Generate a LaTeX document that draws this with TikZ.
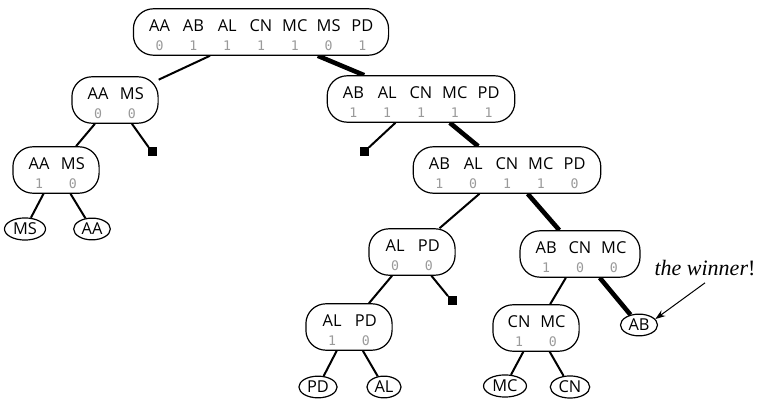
\documentclass[tikz,border=0pt]{standalone}
\usepackage{fontspec}
\usepackage{array}
\setmainfont{Open Sans}
\newfontfamily\digitfont{DejaVu Sans Mono}
\newfontfamily\notefont{Liberation Serif}
\usetikzlibrary{shapes.geometric,backgrounds,arrows.meta}
\definecolor{digitgray}{HTML}{9A9A9A}
\newcommand{\tal}[1]{{\digitfont\fontsize{6.6}{7}\selectfont\color{digitgray}#1}}
\newcommand{\votes}[2]{\renewcommand{\arraystretch}{0.94}\setlength{\tabcolsep}{1.95pt}%
  \begin{tabular}[t]{@{}*{#1}{w{c}{13pt}}@{}}#2\end{tabular}}

\begin{document}
\begin{tikzpicture}[x=0.5pt,y=-0.5pt,
  ballot/.style={draw,line width=0.6pt,rounded corners=10pt,fill=white,
    inner xsep=6.6pt,inner ysep=0pt,text height=11.6pt,text depth=11.6pt,
    font=\fontsize{8.2}{10}\selectfont},
  cand/.style={draw,ellipse,line width=0.6pt,fill=white,inner xsep=1.3pt,inner ysep=0.9pt,
    font=\fontsize{8.2}{10}\selectfont},
  drop/.style={fill=black,minimum size=4.5pt,inner sep=0pt},
  edge/.style={line width=1pt},
  winedge/.style={line width=2.3pt}]
\useasboundingbox (0,0) rectangle (761,400);

\node[ballot] (root) at (261,32) {\votes{7}{AA & AB & AL & CN & MC & MS & PD\\
  \tal0 & \tal1 & \tal1 & \tal1 & \tal1 & \tal0 & \tal1}};

\node[ballot] (aams1) at (115,100) {\votes{2}{AA & MS\\ \tal0 & \tal0}};
\node[ballot] (rest1) at (421,99) {\votes{5}{AB & AL & CN & MC & PD\\
  \tal1 & \tal1 & \tal1 & \tal1 & \tal1}};
\node[ballot] (aams2) at (56,170) {\votes{2}{AA & MS\\ \tal1 & \tal0}};
\node[ballot] (rest2) at (507,170) {\votes{5}{AB & AL & CN & MC & PD\\
  \tal1 & \tal0 & \tal1 & \tal1 & \tal0}};
\node[ballot] (alpd1) at (412,252) {\votes{2}{AL & PD\\ \tal0 & \tal0}};
\node[ballot] (abcnmc) at (580,254) {\votes{3}{AB & CN & MC\\ \tal1 & \tal0 & \tal0}};
\node[ballot] (alpd2) at (349,327) {\votes{2}{AL & PD\\ \tal1 & \tal0}};
\node[ballot] (cnmc) at (536,328) {\votes{2}{CN & MC\\ \tal1 & \tal0}};

\node[drop] (drop1) at (152,152) {};
\node[drop] (drop2) at (364,152) {};
\node[drop] (drop3) at (452,301) {};

\node[cand] (ms) at (25,229) {MS};
\node[cand] (aa) at (92,229) {AA};
\node[cand] (pd) at (318,387) {PD};
\node[cand] (al) at (384,387) {AL};
\node[cand] (mc) at (505,386) {MC};
\node[cand] (cn) at (570,387) {CN};
\node[cand] (ab) at (639,325) {AB};

\node[font=\notefont\fontsize{11}{12}\selectfont] (winner) at (705,268) {\textit{the winner}!};
\draw[line width=0.5pt,-{Stealth[length=5pt,width=3.5pt]}] (winner.south) -- (ab.20);

\begin{scope}[on background layer]
\draw[edge] (root) -- (aams1);
\draw[winedge] (root) -- (rest1);
\draw[edge] (aams1) -- (aams2);
\draw[edge] (aams1) -- (drop1);
\draw[edge] (aams2) -- (ms);
\draw[edge] (aams2) -- (aa);
\draw[edge] (rest1) -- (drop2);
\draw[winedge] (rest1) -- (rest2);
\draw[edge] (rest2) -- (alpd1);
\draw[winedge] (rest2) -- (abcnmc);
\draw[edge] (alpd1) -- (alpd2);
\draw[edge] (alpd1) -- (drop3);
\draw[edge] (alpd2) -- (pd);
\draw[edge] (alpd2) -- (al);
\draw[edge] (abcnmc) -- (cnmc);
\draw[winedge] (abcnmc) -- (ab);
\draw[edge] (cnmc) -- (mc);
\draw[edge] (cnmc) -- (cn);
\end{scope}
\end{tikzpicture}
\end{document}
